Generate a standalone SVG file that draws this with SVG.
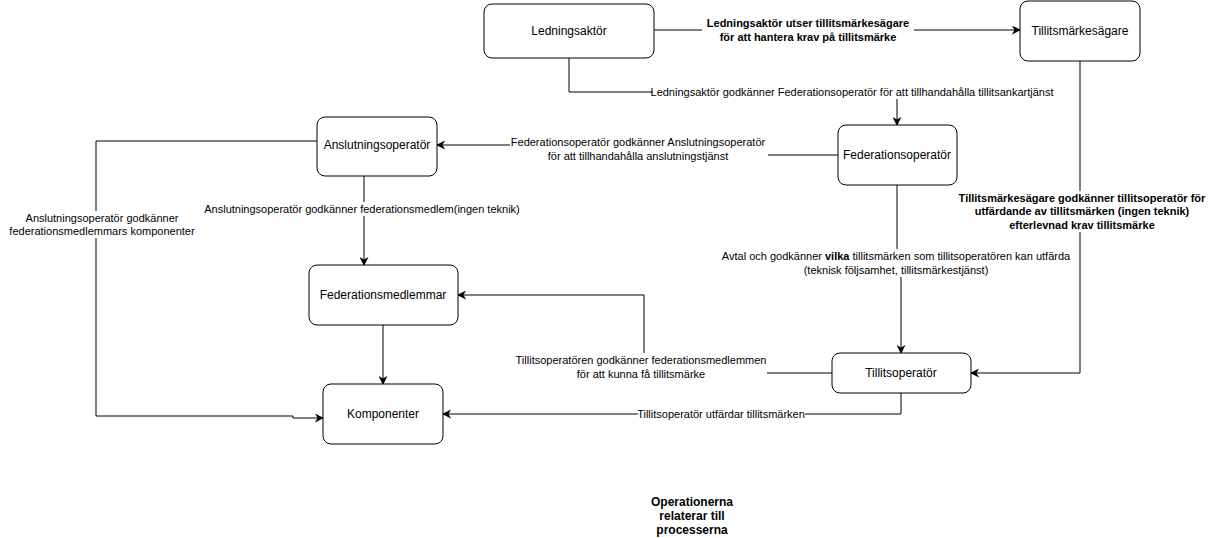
<svg xmlns="http://www.w3.org/2000/svg" width="1209" height="538" viewBox="0 0 1209 538">
<style>
.node rect{fill:#fff;stroke:#000;stroke-width:1}
.node text{font-family:"Liberation Sans",Arial,sans-serif;font-size:12px;fill:#000;text-anchor:middle}
.conn path{fill:none;stroke:#000;stroke-width:1}
.lbl text{font-family:"Liberation Sans",Arial,sans-serif;font-size:11px;fill:#000;text-anchor:middle}
.lbl rect{fill:#fff;stroke:none}
.b{font-weight:bold}
</style>
<defs>
<marker id="arr" viewBox="0 0 10 10" refX="9" refY="5" markerWidth="9" markerHeight="9" markerUnits="userSpaceOnUse" orient="auto">
<path d="M0,0 L10,5 L0,10 L3,5 z" fill="#000"/>
</marker>
</defs>
<rect width="1209" height="538" fill="#fff"/>
<g id="connectors" class="conn">
<path d="M654,30 H1020" marker-end="url(#arr)"/>
<path d="M569,58 V92 H897 V125" marker-end="url(#arr)"/>
<path d="M838,155 H637 V145 H437" marker-end="url(#arr)"/>
<path d="M364,176 V265" marker-end="url(#arr)"/>
<path d="M897,185 V265 H901 V353" marker-end="url(#arr)"/>
<path d="M1080,61 V373 H971" marker-end="url(#arr)"/>
<path d="M832,373 H644 V295 H458" marker-end="url(#arr)"/>
<path d="M901,393 V414 H443" marker-end="url(#arr)"/>
<path d="M383,325 V384" marker-end="url(#arr)"/>
<path d="M317,141 H96 V416 H293 V418 H323" marker-end="url(#arr)"/>
</g>
<g id="labels" class="lbl">
<g><rect x="702" y="15" width="212" height="29"/><text class="b" x="808" y="27">Ledningsaktör utser tillitsmärkesägare</text><text class="b" x="808" y="41">för att hantera krav på tillitsmärke</text></g>
<g><rect x="653" y="85" width="400" height="14"/><text x="852" y="96">Ledningsaktör godkänner Federationsoperatör för att tillhandahålla tillitsankartjänst</text></g>
<g><rect x="510" y="135" width="258" height="28"/><text x="638" y="146">Federationsoperatör godkänner Anslutningsoperatör</text><text x="638" y="160">för att tillhandahålla anslutningstjänst</text></g>
<g><rect x="205" y="202" width="314" height="14"/><text x="362" y="213">Anslutningsoperatör godkänner federationsmedlem(ingen teknik)</text></g>
<g><rect x="721" y="249" width="320" height="28"/><text x="896" y="260">Avtal och godkänner <tspan class="b">vilka</tspan> tillitsmärken som tillitsoperatören kan utfärda</text><text x="896" y="274">(teknisk följsamhet, tillitsmärkestjänst)</text></g>
<g><rect x="956" y="191" width="252" height="41"/><text class="b" x="1082" y="202">Tillitsmärkesägare godkänner tillitsoperatör för</text><text class="b" x="1082" y="215">utfärdande av tillitsmärken (ingen teknik)</text><text class="b" x="1082" y="229">efterlevnad krav tillitsmärke</text></g>
<g><rect x="515" y="353" width="252" height="28"/><text x="641" y="364">Tillitsoperatören godkänner federationsmedlemmen</text><text x="641" y="378">för att kunna få tillitsmärke</text></g>
<g><rect x="638" y="407" width="167" height="14"/><text x="721" y="418">Tillitsoperatör utfärdar tillitsmärken</text></g>
<g><rect x="16" y="211" width="174" height="27"/><text x="102" y="222">Anslutningsoperatör godkänner</text><text x="102" y="235">federationsmedlemmars komponenter</text></g>
</g>
<g id="ledningsaktor" class="node"><rect x="484" y="4" width="170" height="54" rx="8"/><text x="569" y="35">Ledningsaktör</text></g>
<g id="tillitsmarkesagare" class="node"><rect x="1020" y="1" width="120" height="60" rx="8"/><text x="1080" y="35">Tillitsmärkesägare</text></g>
<g id="anslutningsoperator" class="node"><rect x="317" y="117" width="120" height="59" rx="8"/><text x="377" y="149">Anslutningsoperatör</text></g>
<g id="federationsoperator" class="node"><rect x="838" y="125" width="119" height="60" rx="8"/><text x="897" y="159">Federationsoperatör</text></g>
<g id="federationsmedlemmar" class="node"><rect x="309" y="265" width="149" height="60" rx="8"/><text x="383" y="299">Federationsmedlemmar</text></g>
<g id="tillitsoperator" class="node"><rect x="832" y="353" width="139" height="40" rx="8"/><text x="901" y="377">Tillitsoperatör</text></g>
<g id="komponenter" class="node"><rect x="323" y="384" width="120" height="60" rx="8"/><text x="383" y="418">Komponenter</text></g>
<g id="note" class="lbl"><text class="b" x="692" y="506" style="font-size:12px">Operationerna</text><text class="b" x="692" y="520" style="font-size:12px">relaterar till</text><text class="b" x="692" y="534" style="font-size:12px">processerna</text></g>
</svg>
